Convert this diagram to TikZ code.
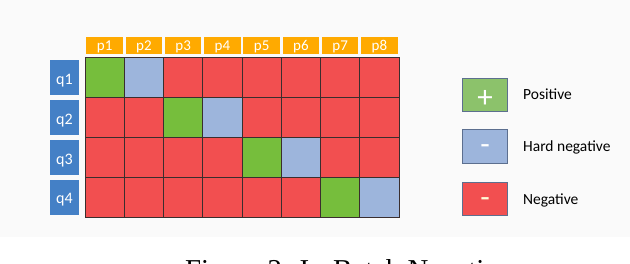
\documentclass[tikz,border=0pt]{standalone}
\usepackage{fontspec}
\setmainfont{Carlito}
\newfontfamily\capfont{Liberation Serif}
\usepackage{tikz}

\definecolor{bggray}{HTML}{FAFAFA}
\definecolor{negred}{HTML}{F24F50}
\definecolor{posgreen}{HTML}{76BE3C}
\definecolor{hardblue}{HTML}{9DB5DC}
\definecolor{legreen}{HTML}{8CC26B}
\definecolor{headorange}{HTML}{FFAA00}
\definecolor{qblue}{HTML}{4480C6}
\definecolor{gridline}{HTML}{3A2E2E}
\definecolor{legborder}{HTML}{5C6F8F}

\begin{document}
\begin{tikzpicture}[x=1pt, y=-1pt,
    cell/.style={draw=gridline, line width=0.8pt, minimum width=39.25pt, minimum height=39.9pt, inner sep=0pt},
    phead/.style={fill=headorange, text=white, minimum width=36.5pt, minimum height=17pt, inner sep=0pt,
        text height=10.4pt, text depth=0pt, font=\fontsize{15}{17}\selectfont},
    qhead/.style={fill=qblue, text=white, minimum width=29pt, minimum height=35pt, inner sep=0pt,
        text height=13.6pt, text depth=0pt, font=\fontsize{16}{18}\selectfont},
    legbox/.style={draw=legborder, line width=1pt, minimum width=45pt, minimum height=33.5pt, inner sep=0pt},
    legsign/.style={text=white, inner sep=0pt, font=\fontsize{31}{33}\selectfont},
    legtext/.style={anchor=base west, inner sep=0pt, font=\fontsize{15.5}{18}\selectfont}]
    \useasboundingbox (0,0) rectangle (630,264);
    \clip (0,0) rectangle (630,264);
    \fill[bggray] (0,0) rectangle (630,237);

    % score matrix
    \foreach \i in {1,...,4}{
        \node[qhead] (q\i) at (64.5, {57.5+(\i-0.5)*39.9}) {q\i};
        \foreach \j in {1,...,8}{
            \pgfmathtruncatemacro{\k}{\j-2*\i}
            \ifnum\k=-1 \def\cellcol{posgreen}\else\ifnum\k=0 \def\cellcol{hardblue}\else\def\cellcol{negred}\fi\fi
            \node[cell, fill=\cellcol] (c\i\j) at ({85+(\j-0.5)*39.25}, {57.5+(\i-0.5)*39.9}) {};
        }
    }
    \foreach \j in {1,...,8}
        \node[phead] (p\j) at ({85+(\j-0.5)*39.25}, 45.5) {p\j};

    % legend
    \node[legbox, fill=legreen] (lpos) at (485, 95) {};
    \node[legbox, fill=hardblue] (lhard) at (485, 146.5) {};
    \node[legbox, fill=negred] (lneg) at (485, 199) {};
    \node[legsign] (spos) at ([yshift=-4pt]lpos.center) {+};
    \node[legsign] (shard) at ([yshift=-3pt]lhard.center) {-};
    \node[legsign, text=yellow!15] (sneg) at ([yshift=-4pt]lneg.center) {-};
    \node[legtext] (tpos) at (523, 100) {Positive};
    \node[legtext] (thard) at (523, 151.7) {Hard negative};
    \node[legtext] (tneg) at (523, 204.2) {Negative};

    \node[anchor=base west, inner sep=0pt, font=\capfont\fontsize{28.8}{32}\selectfont] (cap) at (185, 279.5) {Figure 2: In-Batch Negatives};
\end{tikzpicture}
\end{document}
